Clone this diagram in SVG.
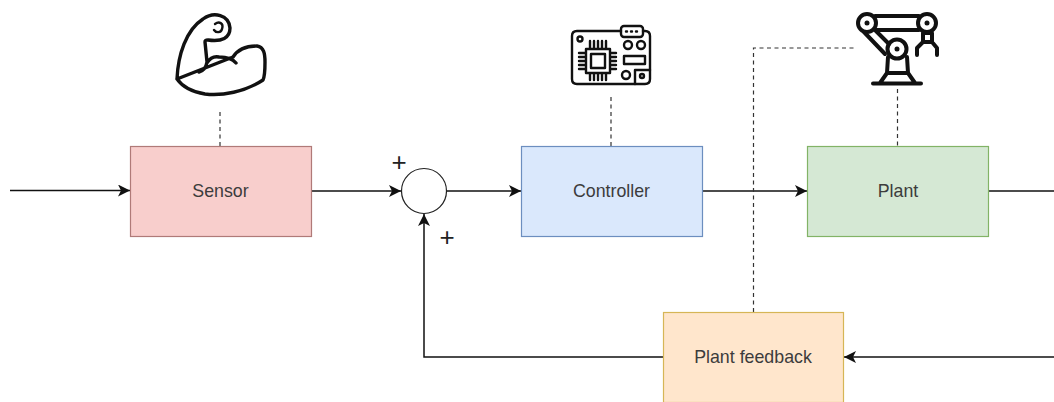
<svg xmlns="http://www.w3.org/2000/svg" width="1054" height="402" viewBox="0 0 1054 402">
<style>
.box{stroke-width:1.2}
.t{font-family:"Liberation Sans",Arial,sans-serif;font-size:17.8px;fill:#3c3c3c;text-anchor:middle}
.c{fill:none;stroke:#111;stroke-width:1.5}
.d{fill:none;stroke:#333;stroke-width:1.2;stroke-dasharray:4 3.5}
.i{fill:none;stroke:#111;stroke-width:4;stroke-linecap:round;stroke-linejoin:round}
.m{fill:none;stroke:#111;stroke-width:3.4;stroke-linecap:round;stroke-linejoin:round}
.i2{fill:none;stroke:#111;stroke-width:2.4;stroke-linecap:round;stroke-linejoin:round}
.p{font-family:"Liberation Sans",Arial,sans-serif;font-size:26px;fill:#222;text-anchor:middle}
</style>
<defs><marker id="a" markerUnits="userSpaceOnUse" markerWidth="13" markerHeight="13" refX="12" refY="6" orient="auto"><path d="M0,0L12,6L0,12L3,6Z" fill="#111"/></marker></defs>
<rect width="1054" height="402" fill="#fff"/>
<g id="connectors">
<path class="c" marker-end="url(#a)" d="M10,190.500L130,190.500"/>
<path class="c" marker-end="url(#a)" d="M311,191L401,191"/>
<path class="c" marker-end="url(#a)" d="M447,191L521,191"/>
<path class="c" marker-end="url(#a)" d="M702,191L807,191"/>
<path class="c" d="M988,191L1054,191"/>
<path class="c" marker-end="url(#a)" d="M1054,357L844,357"/>
<path class="c" marker-end="url(#a)" d="M663,357L424,357L424,214"/>
<path class="d" d="M220,112L220,146"/>
<path class="d" d="M611,97L611,146"/>
<path class="d" d="M897.500,89L897.500,146"/>
<path class="d" d="M753.500,312L753.500,48L857,48"/>
</g>
<g id="sensor"><rect class="box" x="130.500" y="146.500" width="181" height="90" fill="#f8cecc" stroke="#b07a78"/><text class="t" x="220.500" y="197">Sensor</text></g>
<g id="controller"><rect class="box" x="521.500" y="146.500" width="181" height="90" fill="#dae8fc" stroke="#6c8ebf"/><text class="t" x="611.500" y="197">Controller</text></g>
<g id="plant"><rect class="box" x="807.500" y="146.500" width="181" height="90" fill="#d5e8d4" stroke="#82b366"/><text class="t" x="898" y="197">Plant</text></g>
<g id="feedback"><rect class="box" x="663.500" y="312.500" width="180" height="90" fill="#ffe6cc" stroke="#d6b656"/><text class="t" x="753" y="363">Plant feedback</text></g>
<g id="sum"><circle cx="424" cy="191" r="22.500" fill="#fff" stroke="#222" stroke-width="1.2"/></g>
<g id="plus-labels"><text class="p" x="399" y="171">+</text><text class="p" x="447" y="246">+</text></g>
<g id="muscle-icon">
<path class="m" d="M177,79C178,55 186,30 203,19C214,11 229,15 230,28C230,38 222,42 208,40C206,40 205,40 205,42L207,62C206,68 203,71 199,72M207,63C210,58 214,56 219,57C226,57 232,58 236,63M233,57C238,49 248,46 257,46C264,47 265,54 265,62C265,70 265,76 263,80C245,92 222,96 205,94C192,92 182,86 177,79Z"/>
<path class="i2" d="M215,24C219,21 224,23 222,29C221,33 216,33 214,30"/>
</g>
<g id="controller-icon">
<path class="i2" d="M621,31L577,31Q572,31 572,36L572,79Q572,84 577,84L645,84Q650,84 650,79L650,36Q650,31 645,31L643,31"/>
<rect class="i2" x="621" y="26" width="22" height="11" rx="3"/>
<path class="i2" d="M626,31.500h1M631,31.500h1M636,31.500h1"/>
<circle class="i2" cx="580" cy="39" r="2.500"/>
<rect class="i2" x="586" y="49" width="24" height="24"/>
<rect class="i2" x="591" y="54" width="14" height="14"/>
<path class="i2" d="M590,41V48M594,41V48M598,41V48M602,41V48M606,41V48M590,74V80M594,74V80M598,74V80M602,74V80M606,74V80M579,53H585M579,57H585M579,61H585M579,65H585M579,69H585M611,53H616M611,57H616M611,61H616M611,65H616M611,69H616"/>
<circle class="i2" cx="628" cy="45" r="4"/><circle class="i2" cx="641" cy="45" r="4"/>
<rect class="i2" x="624" y="56" width="21" height="8"/>
<circle class="i2" cx="626" cy="75" r="4"/>
<path class="i2" d="M635,84V70H650"/>
<circle class="i2" cx="642" cy="76" r="2"/>
</g>
<g id="robot-icon">
<path class="i" d="M875,16H919M875,30H919M875,30L889,44M864,32L885,54"/>
<path class="i" d="M888,57L887,73H908L907,57M887,73L880,83M908,73L915,83M873,83.500H921"/>
<path class="i" d="M923,33H932V42H923ZM923,42L917,48V55M932,42L937,48V55"/>
<circle class="i" cx="867" cy="23" r="9" fill="#fff"/><circle cx="867" cy="23" r="2.500" fill="#111"/>
<circle class="i" cx="927" cy="23" r="9" fill="#fff"/><circle cx="927" cy="23" r="2.500" fill="#111"/>
<circle class="i" cx="897" cy="49" r="9.500" fill="#fff"/><circle cx="897" cy="49" r="2.500" fill="#111"/>
</g>
</svg>
